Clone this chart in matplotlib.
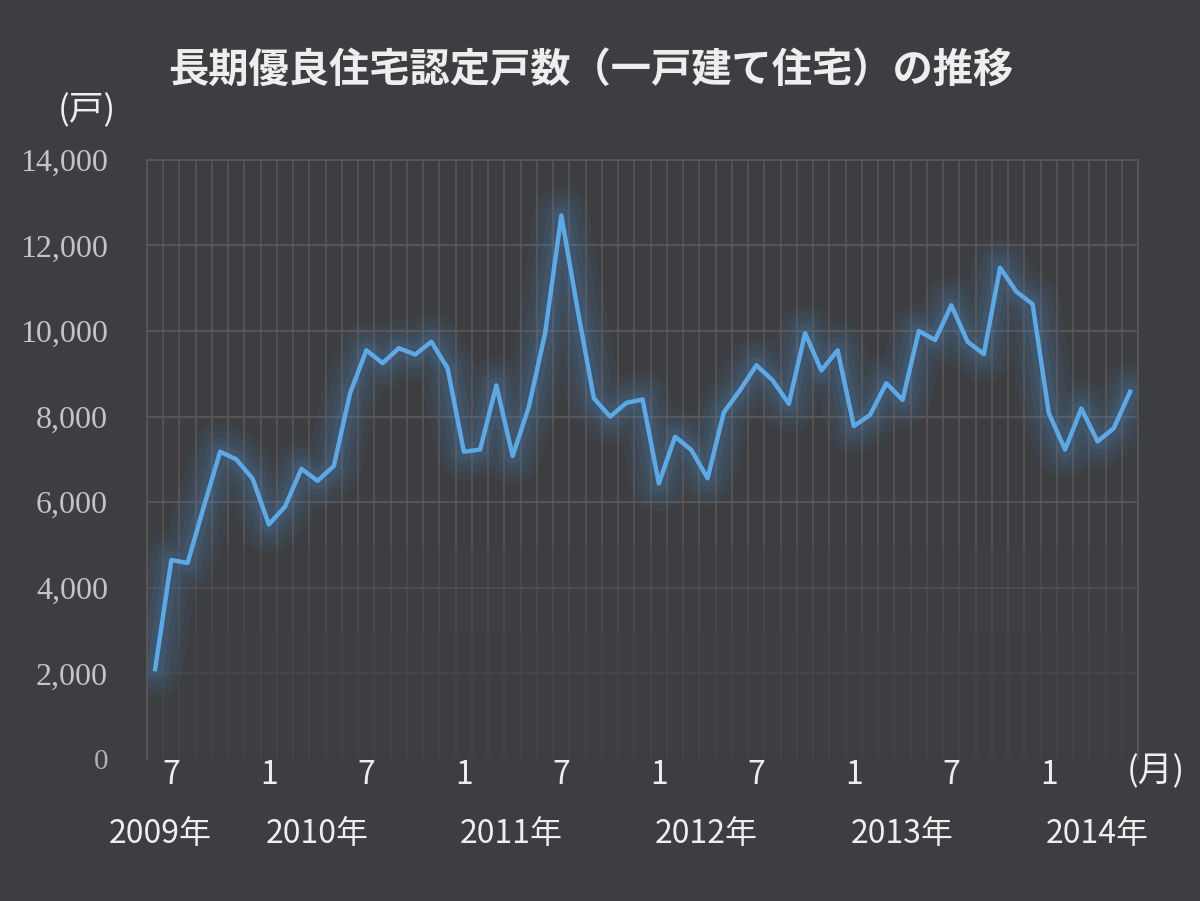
import numpy as np
import matplotlib
matplotlib.use("Agg")
import matplotlib.pyplot as plt

plt.rcParams['font.family'] = ['Noto Sans CJK JP', 'DejaVu Sans']

# Monthly values, 2009-06 .. 2014-06
values = [
    2100, 4650, 4580, 5900, 7180, 7000, 6550,                      # 2009 Jun-Dec
    5480, 5900, 6780, 6500, 6850, 8550, 9550, 9250, 9600, 9450, 9750, 9130,  # 2010
    7180, 7230, 8730, 7080, 8230, 9950, 12700, 10500, 8430, 8000, 8320, 8400,  # 2011
    6440, 7530, 7220, 6560, 8100, 8620, 9200, 8850, 8300, 9950, 9080, 9550,   # 2012
    7780, 8040, 8780, 8390, 10000, 9790, 10600, 9750, 9460, 11480, 10920, 10630,  # 2013
    8080, 7230, 8190, 7420, 7730, 8580,                            # 2014 Jan-Jun
]
month_labels = ["7", "1", "7", "1", "7", "1", "7", "1", "7", "1"]
month_label_idx = [1, 7, 13, 19, 25, 31, 37, 43, 49, 55]
year_labels = ["2009年", "2010年", "2011年", "2012年", "2013年", "2014年"]
year_label_pos = [0.3, 10.0, 21.9, 33.9, 46.0, 58.0]
y_ticks = [0, 2000, 4000, 6000, 8000, 10000, 12000, 14000]

title = "長期優良住宅認定戸数（一戸建て住宅）の推移"

bg = "#3d3e42"
grid_c = "#5e5656"
line_c = "#5ca9e8"
txt_c = "#eeeeee"
tick_c = "#c4c4c4"

fig = plt.figure(figsize=(12, 9.01), dpi=100, facecolor=bg)
ax = fig.add_axes([0.1225, 0.1576, 0.826, 0.665], facecolor=bg)

n = len(values)
x = np.arange(n)
ax.set_xlim(-0.5, n - 0.5)
ax.set_ylim(0, 14000)

# grid: horizontal
for yv in y_ticks[1:]:
    a = 1.0 if yv >= 6000 else (0.6 if yv >= 4000 else 0.3)
    ax.axhline(yv, color=grid_c, lw=1.3, alpha=a, zorder=1)
# vertical monthly grid (category boundaries), fading downward
for k in range(1, n):
    xv = k - 0.5
    ax.plot([xv, xv], [5000, 14000], color=grid_c, lw=1.1, zorder=1)
    ax.plot([xv, xv], [3000, 5000], color=grid_c, lw=1.1, alpha=0.55, zorder=1)
    ax.plot([xv, xv], [0, 3000], color=grid_c, lw=1.1, alpha=0.25, zorder=1)

for s in ["top", "left", "right"]:
    ax.spines[s].set_color(grid_c)
    ax.spines[s].set_linewidth(1.3)
ax.spines["bottom"].set_visible(False)

# glow
for lw, a in [(40, 0.07), (30, 0.08), (20, 0.10), (12, 0.13)]:
    ax.plot(x, values, color="#4a86bd", lw=lw, alpha=a, solid_joinstyle="round",
            solid_capstyle="round", zorder=2)
ax.plot(x, values, color=line_c, lw=3.2, solid_joinstyle="round", zorder=3)

ax.set_yticks(y_ticks)
ax.set_yticklabels([f"{v:,}" for v in y_ticks], color=tick_c, fontsize=23,
                   family=["Liberation Serif", "DejaVu Serif"])
ylabs = ax.get_yticklabels()
ylabs[0].set_fontsize(21)
ylabs[0].set_color("#b0b0b0")
ax.set_xticks(month_label_idx)
ax.set_xticklabels(month_labels, color=txt_c, fontsize=23)
ax.tick_params(axis="both", length=0)
ax.tick_params(axis="y", pad=28)
ax.tick_params(axis="x", pad=0)

for lab, pos in zip(year_labels, year_label_pos):
    ax.text(pos, -1750, lab, ha="center", va="center", color=txt_c, fontsize=23)

ax.text(n + 0.6, -300, "(月)", ha="center", va="center", color=txt_c, fontsize=25)

fig.text(0.492, 0.922, title, ha="center", va="center", color=txt_c,
         fontsize=29, fontweight="bold")
fig.text(0.072, 0.877, "(戸)", ha="center", va="center", color=txt_c, fontsize=25)

fig.savefig("out.png", dpi=100, facecolor=bg)
